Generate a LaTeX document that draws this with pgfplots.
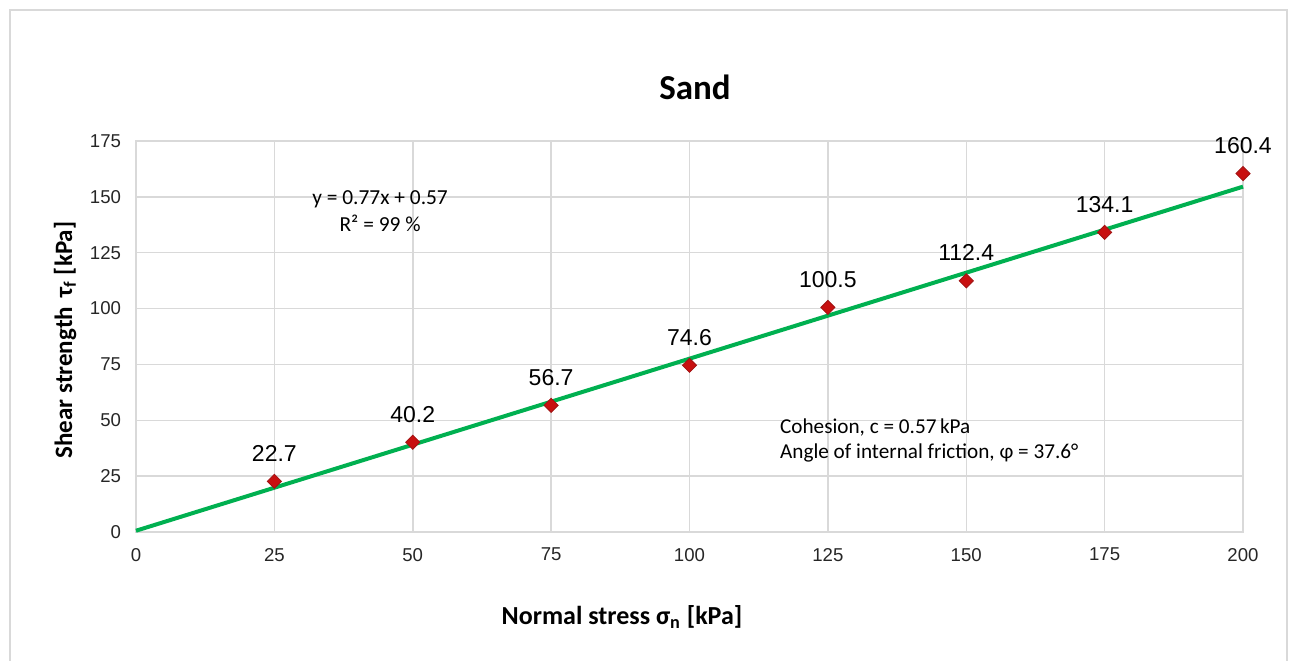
\documentclass[border=0pt]{standalone}
\usepackage{fontspec}
\setmainfont{Carlito}
\newfontfamily\arial{Liberation Sans}
\usepackage{pgfplots}
\pgfplotsset{compat=1.18}
\definecolor{gridgray}{RGB}{217,217,217}
\definecolor{fitgreen}{RGB}{0,176,80}
\definecolor{mkred}{RGB}{200,16,16}
\definecolor{mkedge}{RGB}{160,20,20}
\begin{document}
\begin{tikzpicture}
\begin{axis}[
  name=ax,
  scale only axis,
  width=553.5bp, height=195.5bp,
  xmin=0, xmax=200, ymin=0, ymax=175,
  xtick={0,25,...,200}, ytick={0,25,...,175},
  grid=major,
  major grid style={gridgray, line width=0.75bp},
  axis line style={gridgray, line width=0.75bp},
  major tick length=0pt,
  tick label style={font=\arial\fontsize{9.3bp}{11bp}\selectfont, text=black!85},
  /pgf/number format/assume math mode=true,
  xticklabel style={yshift=-4.5bp},
  yticklabel style={xshift=-4bp},
  clip=false,
]
\addplot[fitgreen, line width=2bp] coordinates {(0,0.57) (200,154.57)};
\addplot[only marks, mark=square*, mark size=2.5bp,
  mark options={fill=mkred, draw=mkedge, line width=0.4bp, rotate=45},
  nodes near coords, point meta=explicit symbolic,
  every node near coord/.style={font=\arial\fontsize{11.5bp}{13bp}\selectfont, text=black, anchor=base, inner sep=0pt, yshift=10bp}]
  table[meta=lab] {
x y lab
25 22.7 22.7
50 40.2 40.2
75 56.7 56.7
100 74.6 74.6
125 100.5 100.5
150 112.4 112.4
175 134.1 134.1
200 160.4 160.4
};
\node[font=\fontsize{10.7bp}{13.5bp}\selectfont, align=center] at (axis cs:44.1,143.5) {y = 0.77x + 0.57\\R² = 99 \%};
\node[font=\fontsize{10.6bp}{12.5bp}\selectfont, align=left, anchor=west, inner sep=0pt] at (axis cs:116.3,41) {Cohesion, c = 0.57\,kPa\\Angle of internal friction, φ = 37.6°};
\end{axis}
\path[use as bounding box] ([xshift=-68bp,yshift=-64.5bp]ax.south west) rectangle ([xshift=577bp,yshift=266bp]ax.south west);
\draw[gridgray, line width=1bp] ([xshift=-63bp,yshift=-64.5bp]ax.south west) -- ([xshift=-63bp,yshift=261bp]ax.south west) -- ([xshift=575.5bp,yshift=261bp]ax.south west) -- ([xshift=575.5bp,yshift=-64.5bp]ax.south west);
\node[font=\bfseries\fontsize{17.5bp}{20bp}\selectfont] at ([xshift=279.5bp,yshift=222.5bp]ax.south west) {Sand};
\node[font=\bfseries\fontsize{13bp}{15bp}\selectfont] at ([xshift=243bp,yshift=-42.5bp]ax.south west) {Normal stress σ\textsubscript{n} [kPa]};
\node[font=\bfseries\fontsize{12.5bp}{15bp}\selectfont, rotate=90] at ([xshift=-35.5bp,yshift=96bp]ax.south west) {Shear strength\, τ\textsubscript{f} [kPa]};
\end{tikzpicture}
\end{document}
